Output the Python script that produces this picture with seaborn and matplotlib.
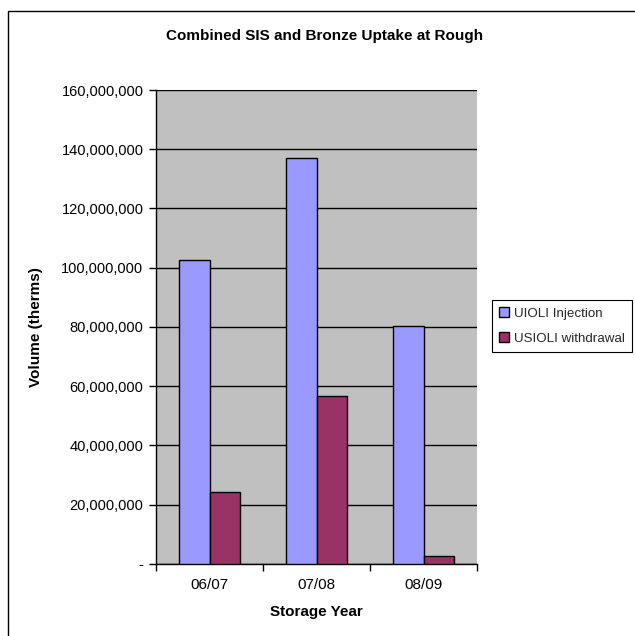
import matplotlib
matplotlib.use("Agg")
import matplotlib.pyplot as plt
from matplotlib.patches import Rectangle
from matplotlib.ticker import FuncFormatter
import seaborn as sns
import pandas as pd

years = ["06/07", "07/08", "08/09"]
injection = [102_700_000, 137_100_000, 80_300_000]
withdrawal = [24_100_000, 56_800_000, 2_800_000]
series_names = ["UIOLI Injection", "USIOLI withdrawal"]
y_ticks = [0, 20_000_000, 40_000_000, 60_000_000, 80_000_000,
           100_000_000, 120_000_000, 140_000_000, 160_000_000]

df = pd.DataFrame({
    "Storage Year": years * 2,
    "Volume": injection + withdrawal,
    "Series": [series_names[0]] * len(years) + [series_names[1]] * len(years),
})

sns.set_theme(style="white")
plt.rcParams["font.family"] = ["Liberation Sans", "DejaVu Sans"]

fig = plt.figure(figsize=(6.35, 6.36), dpi=100)
ax = fig.add_axes([156 / 635, 1 - 563.8 / 636, (477 - 156) / 635, (563.8 - 90) / 636])

# frame around the whole chart area (runs off the right and bottom edges)
fig.patches.append(Rectangle((8 / 635, -0.05), 1.2, 1 - 10.5 / 636 + 0.05,
                             transform=fig.transFigure, fill=False,
                             edgecolor="black", linewidth=1.0, zorder=0))

sns.barplot(data=df, x="Storage Year", y="Volume", hue="Series",
            palette=["#9999FF", "#993366"], width=0.5625, gap=0,
            edgecolor="black", linewidth=1.0, saturation=1, ax=ax,
            legend=True, zorder=3)

ax.set_facecolor("#C0C0C0")
ax.set_xlim(-0.5, 2.5)
ax.set_ylim(0, 160_000_000)
ax.set_yticks(y_ticks)
ax.yaxis.set_major_formatter(FuncFormatter(lambda v, p: "-" if v == 0 else f"{v:,.0f}"))
ax.grid(axis="y", color="black", linewidth=1.0, zorder=1)
ax.set_axisbelow(True)

# category boundary ticks, with labels centred between them
ax.set_xticks([-0.5, 0.5, 1.5, 2.5])
ax.set_xticklabels([])
ax.set_xticks([0, 1, 2], minor=True)
ax.set_xticklabels(years, minor=True)
ax.tick_params(axis="x", which="major", direction="out", length=5, width=1, color="black", bottom=True)
ax.tick_params(axis="x", which="minor", length=0, pad=10, labelsize=11, labelcolor="black")
ax.tick_params(axis="y", direction="out", length=5, width=1, color="black", left=True,
               labelsize=10.5, labelcolor="black", pad=4)

for side in ["top", "right"]:
    ax.spines[side].set_visible(False)
for side in ["left", "bottom"]:
    ax.spines[side].set_color("black")
    ax.spines[side].set_linewidth(1.0)

ax.set_xlabel("Storage Year", fontsize=11, fontweight="bold", color="black")
ax.set_ylabel("Volume (therms)", fontsize=11, fontweight="bold", color="black")
ax.yaxis.set_label_coords(-113 / 321, 0.5)
ax.xaxis.set_label_coords(0.5, -41 / 474)

fig.text(325 / 635, 1 - 36 / 636, "Combined SIS and Bronze Uptake at Rough",
         ha="center", va="center", fontsize=11, fontweight="bold", color="black")

handles, labels = ax.get_legend_handles_labels()
ax.legend(handles, labels, loc="upper left", bbox_to_anchor=(492 / 635, 1 - 300 / 636),
          bbox_transform=fig.transFigure, frameon=True, fancybox=False,
          edgecolor="black", facecolor="white", fontsize=9.6, handlelength=0.7,
          handleheight=0.7, handletextpad=0.4, borderpad=0.55, labelspacing=0.95,
          framealpha=1, borderaxespad=0)
leg = ax.get_legend()
leg.get_frame().set_linewidth(0.8)

fig.savefig("out.png", dpi=100, facecolor="white")
